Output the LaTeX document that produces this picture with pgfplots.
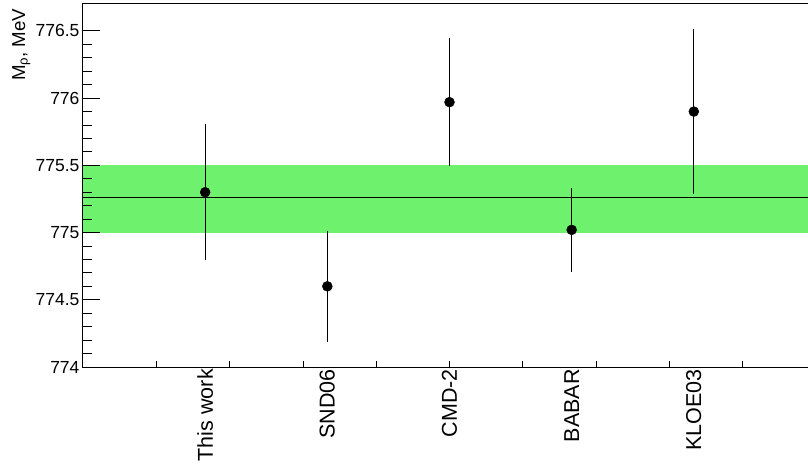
\documentclass[border=0pt]{standalone}
\usepackage{fontspec}
\setmainfont{Liberation Sans}
\usepackage{pgfplots}
\pgfplotsset{compat=1.18}
\definecolor{bandgreen}{RGB}{110,242,110}

\begin{document}
\begin{tikzpicture}
\begin{axis}[
  scale only axis,
  width=733pt, height=363pt,
  xmin=0, xmax=10,
  ymin=774, ymax=776.7,
  axis on top,
  axis line style={line width=1pt},
  tick style={black, line width=0.8pt},
  tick align=inside,
  xtick pos=bottom, ytick pos=left,
  xtick={1,2,3,4,5,6,7,8,9}, xticklabels={},
  major tick length=6pt,
  ytick={774,774.5,775,775.5,776,776.5},
  minor y tick num=4,
  minor tick length=9pt,
  yticklabel style={/pgf/number format/assume math mode=true,
    font=\fontsize{17.5}{20}\selectfont},
  extra y ticks={774,774.5,775,775.5,776,776.5},
  extra y tick labels={},
  extra y tick style={major tick length=17pt},
  extra x ticks={1.6667,3.3333,5,6.6667,8.3333},
  extra x tick labels={This work,SND06,CMD-2,BABAR,KLOE03},
  extra x tick style={major tick length=0pt,
    tick label style={rotate=90, anchor=east, inner sep=2pt,
      font=\fontsize{21.5}{24}\selectfont}},
  ylabel={M\textsubscript{ρ}, MeV},
  ylabel style={at={(axis description cs:-0.0791,0.9972)}, anchor=base east,
    font=\fontsize{18.7}{21}\selectfont},
]
% world average band
\addplot[draw=none, fill=bandgreen] coordinates {
  (0,775.0) (10,775.0) (10,775.5) (0,775.5)
} -- cycle;
\addplot[black, line width=0.8pt] coordinates {(0,775.26) (10,775.26)};

% measurements
\addplot[only marks, mark=*, mark size=5pt, black,
  error bars/.cd, y dir=both, y explicit,
  error bar style={line width=1.1pt},
  error mark options={mark size=2pt, line width=1pt}]
coordinates {
  (1.6667,775.30) +- (0,0.49)
  (3.3333,774.60) +- (0,0.40)
  (5.0000,775.97) +- (0,0.46)
  (6.6667,775.02) +- (0,0.30)
  (8.3333,775.90) +- (0,0.60)
};
\end{axis}
\pgfresetboundingbox
\useasboundingbox (-83pt,-104pt) rectangle (725pt,367pt);
\end{tikzpicture}
\end{document}
